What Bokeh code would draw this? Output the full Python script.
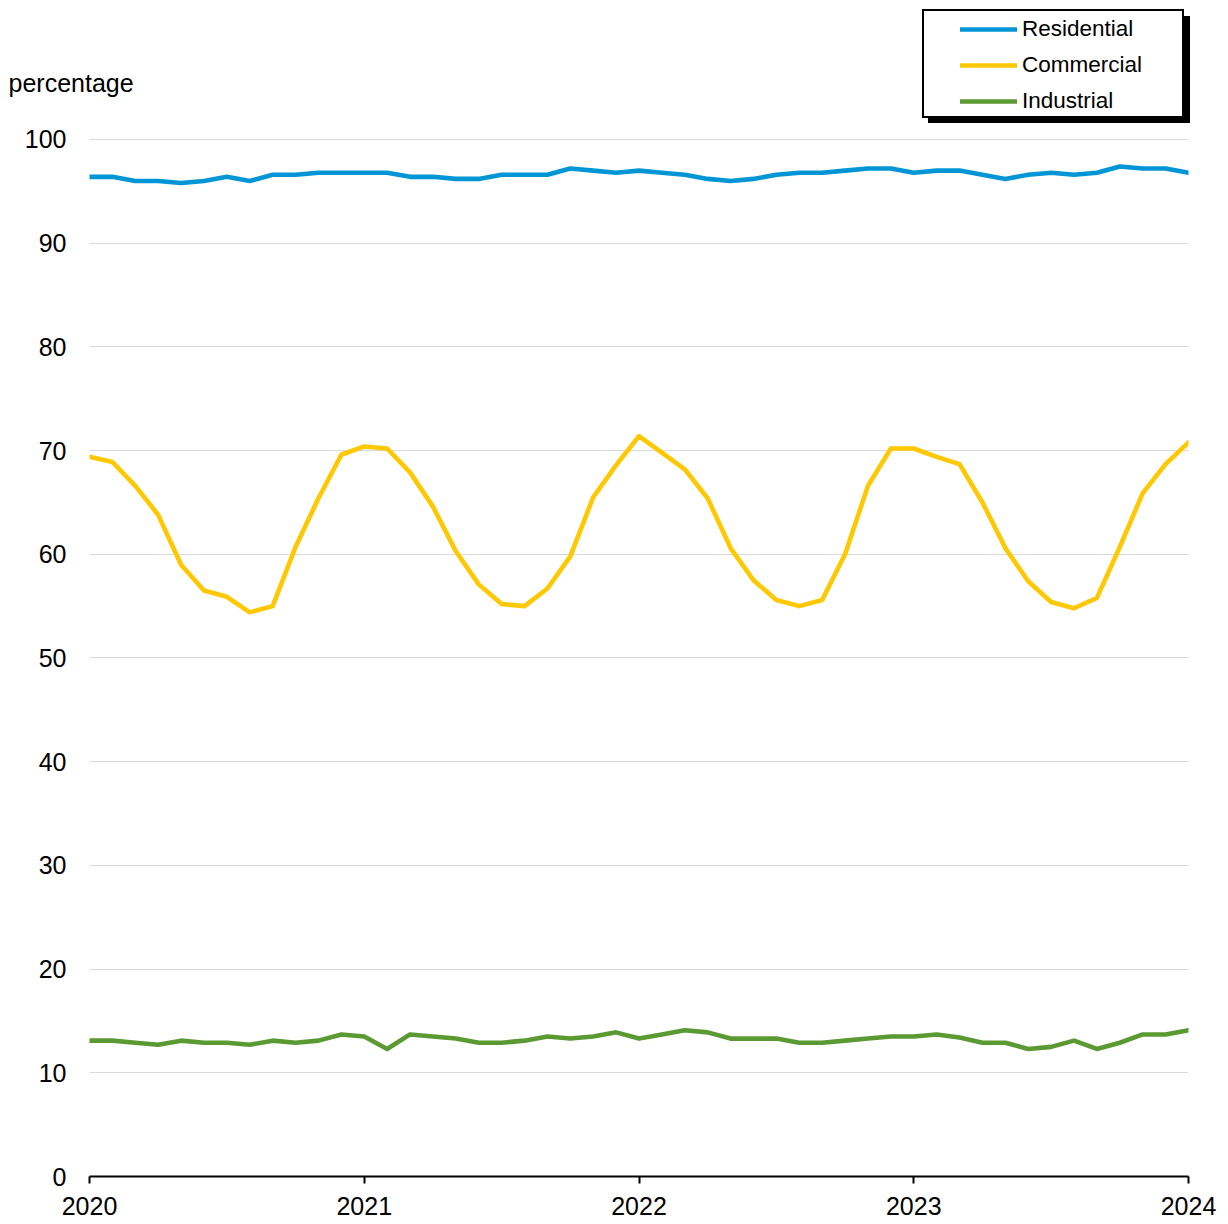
from bokeh.plotting import figure
from bokeh.layouts import column, row
from bokeh.models import Range1d, FixedTicker, Legend, LegendItem, Label, ColumnDataSource
from bokeh.embed import file_html
from bokeh.resources import INLINE

# ---- data (monthly, Jan 2020 .. Jan 2024) ----
start_year = 2020
year_ticks = [2020, 2021, 2022, 2023, 2024]
year_labels = ["2020", "2021", "2022", "2023", "2024"]
y_ticks = [0, 10, 20, 30, 40, 50, 60, 70, 80, 90, 100]
series_names = ["Residential", "Commercial", "Industrial"]
y_axis_title = "percentage"

residential = [96.4, 96.4, 96.0, 96.0, 95.8, 96.0, 96.4, 96.0, 96.6, 96.6, 96.8, 96.8,
               96.8, 96.8, 96.4, 96.4, 96.2, 96.2, 96.6, 96.6, 96.6, 97.2, 97.0, 96.8,
               97.0, 96.8, 96.6, 96.2, 96.0, 96.2, 96.6, 96.8, 96.8, 97.0, 97.2, 97.2,
               96.8, 97.0, 97.0, 96.6, 96.2, 96.6, 96.8, 96.6, 96.8, 97.4, 97.2, 97.2,
               96.8]
commercial = [69.4, 68.9, 66.6, 63.8, 59.0, 56.5, 55.9, 54.4, 55.0, 60.7, 65.4, 69.6,
              70.4, 70.2, 67.9, 64.6, 60.3, 57.1, 55.2, 55.0, 56.7, 59.8, 65.5, 68.6,
              71.4, 69.8, 68.2, 65.4, 60.6, 57.5, 55.6, 55.0, 55.6, 60.0, 66.6, 70.2,
              70.2, 69.4, 68.7, 65.0, 60.6, 57.4, 55.4, 54.8, 55.8, 60.7, 65.9, 68.7,
              70.8]
industrial = [13.1, 13.1, 12.9, 12.7, 13.1, 12.9, 12.9, 12.7, 13.1, 12.9, 13.1, 13.7,
              13.5, 12.3, 13.7, 13.5, 13.3, 12.9, 12.9, 13.1, 13.5, 13.3, 13.5, 13.9,
              13.3, 13.7, 14.1, 13.9, 13.3, 13.3, 13.3, 12.9, 12.9, 13.1, 13.3, 13.5,
              13.5, 13.7, 13.4, 12.9, 12.9, 12.3, 12.5, 13.1, 12.3, 12.9, 13.7, 13.7,
              14.1]

months = [start_year + i / 12 for i in range(len(residential))]
colors = ["#0096D6", "#FFC800", "#5B9A33"]
FONT = "Liberation Sans"
LW = 4.6

source = ColumnDataSource(dict(x=months, res=residential, com=commercial, ind=industrial))
cols = ["res", "com", "ind"]

def bare_figure(w, h):
    f = figure(width=w, height=h, x_range=Range1d(2020, 2024), y_range=Range1d(-2, -1),
               output_backend="svg", toolbar_location=None,
               x_axis_location=None, y_axis_location=None,
               min_border_left=0, min_border_right=0, min_border_top=0, min_border_bottom=0)
    f.outline_line_color = None
    f.grid.visible = False
    return f

# ---------------- header: axis title (left) + legend (right) ----------------
TOP_H = 123
LEFT_W = 140

head_left = bare_figure(LEFT_W, TOP_H)
head_left.add_layout(Label(x=8, y=TOP_H - 82.5, x_units="screen", y_units="screen", text=y_axis_title,
                           text_font=FONT, text_font_size="25px", text_baseline="alphabetic",
                           text_align="left", text_color="black"))

head_right = bare_figure(1228 - LEFT_W, TOP_H)
# legend proxies: same series, drawn outside the (empty) visible y-range of the header
proxies = [head_right.line("x", c, source=source, line_color=col, line_width=LW, line_cap="round")
           for c, col in zip(cols, colors)]
ghost = head_right.line("x", "res", source=source, line_alpha=0)

def box_legend(loc, fill, border):
    return Legend(items=[LegendItem(label=" ", renderers=[ghost])], location=loc,
                  padding=0, margin=0, spacing=0, glyph_width=0, glyph_height=105,
                  label_standoff=0, label_width=258, label_height=105,
                  label_text_font_size="1px", label_text_alpha=0,
                  border_line_color=border, border_line_width=2, border_line_alpha=1,
                  background_fill_color=fill, background_fill_alpha=1)

shadow = box_legend((928 - LEFT_W, TOP_H - 125), "black", "black")
frame_box = box_legend((922 - LEFT_W, TOP_H - 118), "white", "black")
items_legend = Legend(items=[LegendItem(label=n, renderers=[r]) for n, r in zip(series_names, proxies)],
                      location=(960 - LEFT_W, TOP_H - 119), padding=0, margin=0, spacing=0,
                      glyph_width=57, glyph_height=36, label_height=36, label_standoff=5,
                      label_text_font=FONT, label_text_font_size="22.5px", label_text_color="black",
                      border_line_color=None, background_fill_alpha=0)
head_right.add_layout(shadow)
head_right.add_layout(frame_box)
head_right.add_layout(items_legend)

# ---------------- main chart ----------------
MAIN_H = 1224 - TOP_H
p = figure(width=1228, height=MAIN_H,
           x_range=Range1d(2020, 2024), y_range=Range1d(0, 100.482),
           output_backend="svg", toolbar_location=None,
           min_border_left=89, min_border_right=40, min_border_top=134 - TOP_H, min_border_bottom=48)
p.outline_line_color = None
p.xgrid.visible = False
p.ygrid.ticker = FixedTicker(ticks=y_ticks)
p.ygrid.grid_line_color = "#D9D9D9"
p.ygrid.grid_line_width = 1

p.yaxis.ticker = FixedTicker(ticks=y_ticks)
p.yaxis.axis_line_color = None
p.yaxis.major_tick_line_color = None
p.yaxis.minor_tick_line_color = None
p.yaxis.major_tick_out = 0
p.yaxis.major_tick_in = 0
p.yaxis.major_label_standoff = 23
p.yaxis.major_label_text_font = FONT
p.yaxis.major_label_text_font_size = "25px"
p.yaxis.major_label_text_color = "black"

p.xaxis.ticker = FixedTicker(ticks=year_ticks)
p.xaxis.major_label_overrides = {t: l for t, l in zip(year_ticks, year_labels)}
p.xaxis.axis_line_color = "black"
p.xaxis.axis_line_width = 2
p.xaxis.major_tick_line_color = "black"
p.xaxis.major_tick_line_width = 2
p.xaxis.major_tick_out = 7
p.xaxis.major_tick_in = 0
p.xaxis.minor_tick_line_color = None
p.xaxis.major_label_standoff = 13
p.xaxis.major_label_text_font = FONT
p.xaxis.major_label_text_font_size = "25px"
p.xaxis.major_label_text_color = "black"

for c, col in zip(cols, colors):
    p.line("x", c, source=source, line_color=col, line_width=LW, line_join="round", line_cap="round")

layout = column(row(head_left, head_right, spacing=0), p, spacing=0)
open("out.html", "w").write(file_html(layout, INLINE))
